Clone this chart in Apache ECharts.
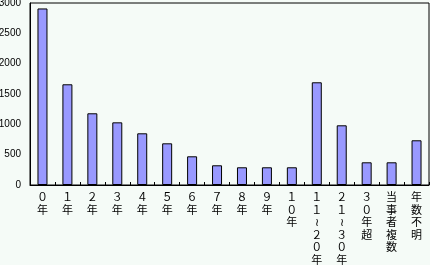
<!DOCTYPE html>
<html><head><meta charset="utf-8">
<script src="https://cdn.jsdelivr.net/npm/echarts@6/dist/echarts.min.js"></script>
<style>html,body{margin:0;padding:0;background:#f5fbf7;}#c{width:430px;height:265px;}</style>
</head><body><div id="c"></div>
<script>
const categories = ['０年','１年','２年','３年','４年','５年','６年','７年','８年','９年','１０年','１１≀２０年','２１≀３０年','３０年超','当事者複数','年数不明'];
const values = [2910, 1660, 1182, 1033, 852, 687, 473, 325, 292, 292, 292, 1693, 984, 374, 374, 737];
const yTicks = [0, 500, 1000, 1500, 2000, 2500, 3000];

const chart = echarts.init(document.getElementById('c'), null, {renderer: 'canvas'});
chart.setOption({
  backgroundColor: '#f5fbf7',
  animation: false,
  grid: {left: 30, right: 1, top: 3, bottom: 80, show: true, borderColor: '#000', borderWidth: 1, backgroundColor: 'transparent', containLabel: false, outerBoundsMode: 'none'},
  xAxis: {
    type: 'category', data: categories,
    axisLine: {lineStyle: {color: '#000', width: 1}},
    axisTick: {show: true, inside: true, length: 3, lineStyle: {color: '#000'}},
    axisLabel: {
      interval: 0, margin: 6, color: '#000', fontSize: 11, lineHeight: 12.5,
      fontFamily: '"Noto Sans CJK JP"', verticalAlign: 'top',
      formatter: v => Array.from(v).join('\n')
    }
  },
  yAxis: {
    type: 'value', min: 0, max: yTicks[yTicks.length-1], interval: 500,
    axisLine: {show: true, lineStyle: {color: '#000', width: 1}},
    axisTick: {show: false},
    splitLine: {show: false},
    axisLabel: {color: '#000', fontSize: 10, margin: 9, fontFamily: '"Liberation Sans"', formatter: v => String(v)}
  },
  series: [{
    type: 'bar', data: values, barWidth: 10,
    itemStyle: {color: '#9999ff', borderColor: '#000', borderWidth: 1}
  }]
});
</script></body></html>
